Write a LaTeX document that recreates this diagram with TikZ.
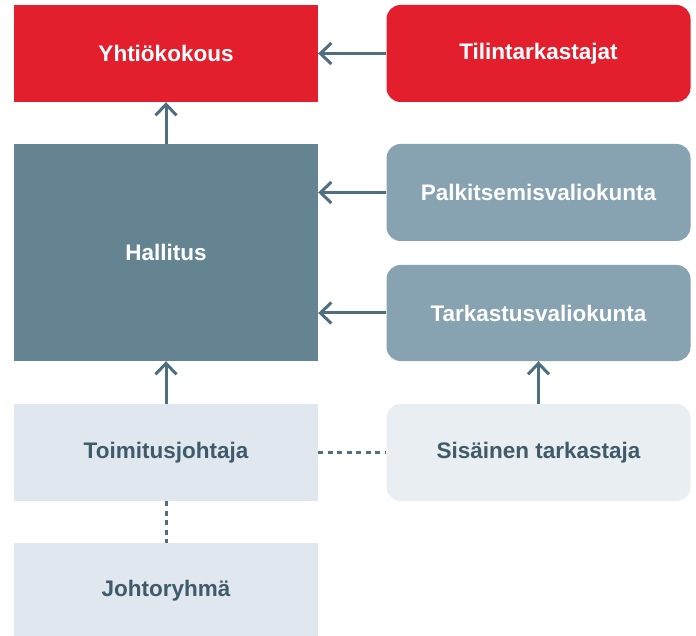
\documentclass[tikz,border=0pt]{standalone}
\usepackage{fontspec}
\setmainfont{Liberation Sans}
\usetikzlibrary{arrows.meta}
\definecolor{cred}{HTML}{E31F2D}
\definecolor{cdark}{HTML}{648492}
\definecolor{cmid}{HTML}{87A2B0}
\definecolor{clight}{HTML}{E0E7EE}
\definecolor{clighter}{HTML}{E8EEF2}
\definecolor{ctext}{HTML}{3F5B6A}
\definecolor{cline}{HTML}{4F6F80}
\tikzset{
  box/.style={inner sep=0pt, minimum width=304pt, font=\bfseries\fontsize{22.5}{26}\selectfont},
  sq/.style={box, rectangle},
  rnd/.style={box, rounded corners=14pt},
  conn/.style={draw=cline, line width=3pt, -{Straight Barb[length=11pt,width=21pt,line width=3pt]}},
  dot/.style={draw=cline, line width=3pt, dash pattern=on 5pt off 4.5pt}
}
\begin{document}
\begin{tikzpicture}[x=1pt,y=-1pt]
\useasboundingbox (0,0) rectangle (696,636);
\node[sq, fill=cred, text=white, minimum height=97pt] (yk) at (166,53.5) {Yhtiökokous};
\node[rnd, fill=cred, text=white, minimum height=97pt] (tt) at (538.5,53.5) {Tilintarkastajat};
\node[sq, fill=cdark, text=white, minimum height=217pt] (ha) at (166,252.5) {Hallitus};
\node[rnd, fill=cmid, text=white, minimum height=97pt] (pv) at (538.5,192.5) {Palkitsemisvaliokunta};
\node[rnd, fill=cmid, text=white, minimum height=96pt] (tv) at (538.5,313) {Tarkastusvaliokunta};
\node[sq, fill=clight, text=ctext, minimum height=97pt] (tj) at (166,452.5) {Toimitusjohtaja};
\node[rnd, fill=clighter, text=ctext, minimum height=97pt] (st) at (538.5,452.5) {Sisäinen tarkastaja};
\node[sq, fill=clight, text=ctext, minimum height=95pt] (jr) at (166,590.5) {Johtoryhmä};
\draw[conn] (tt.west) -- (yk.east);
\draw[conn] (ha.north) -- (yk.south);
\draw[conn] (pv.west) -- (pv.west -| ha.east);
\draw[conn] (tv.west) -- (tv.west -| ha.east);
\draw[conn] (tj.north) -- (ha.south);
\draw[conn] (st.north) -- (tv.south);
\draw[dot] (tj.east) -- (st.west);
\draw[dot] (tj.south) -- (jr.north);
\end{tikzpicture}
\end{document}
